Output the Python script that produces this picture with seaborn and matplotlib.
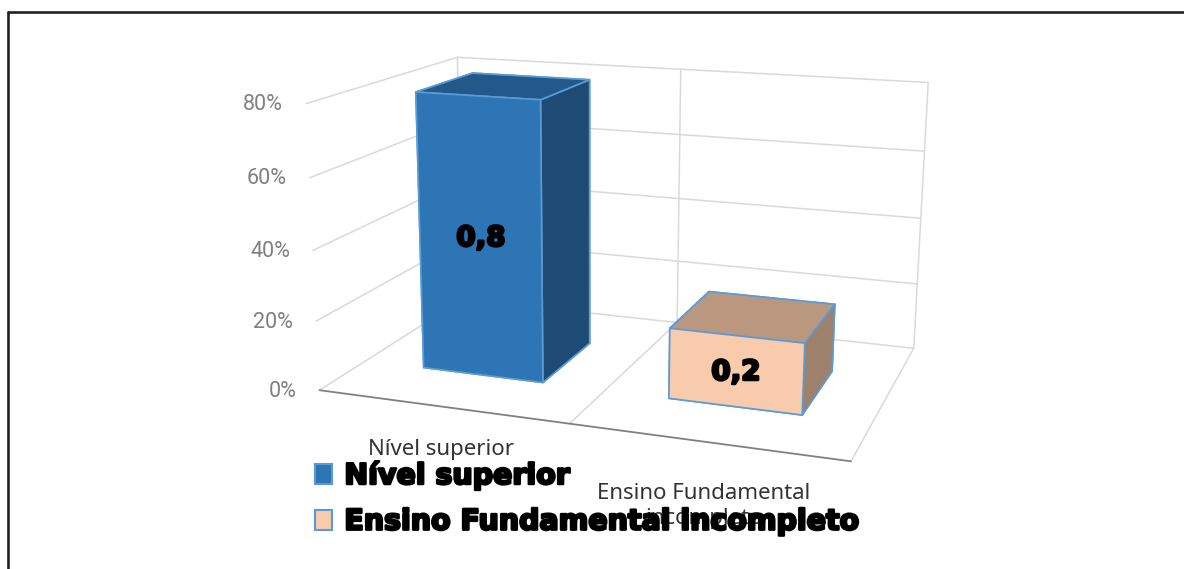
import numpy as np
import matplotlib
matplotlib.use("Agg")
import matplotlib.pyplot as plt
import matplotlib.patheffects as pe
from matplotlib.patches import Patch
from matplotlib.lines import Line2D
import seaborn as sns

# ---- data ----
categories = ["Nível superior", "Ensino Fundamental incompleto"]
axis_labels = ["Nível superior", "Ensino Fundamental\nincompleto"]
values = [0.8, 0.2]
value_labels = ["0,8", "0,2"]
ticks = [0.0, 0.2, 0.4, 0.6, 0.8]
tick_labels = ["0%", "20%", "40%", "60%", "80%"]
front_colors = ["#2E75B6", "#F8CBAD"]
top_colors = ["#22598B", "#BA9880"]
side_colors = ["#1E4B75", "#9E816D"]

W, H = 1184, 569
sns.set_theme(style="white")
plt.rcParams["font.family"] = ["Noto Sans", "DejaVu Sans"]
fig = plt.figure(figsize=(W / 100, H / 100), dpi=100, facecolor="white")

# square 3D axes spanning the figure width, so that apply_aspect leaves it as is
ax = fig.add_axes([0, (H - W) / 2 / H, 1, W / H], projection="3d", computed_zorder=False)
ax.set_axis_off()
ax.patch.set_alpha(0)
ax.set_xlim(0, 2); ax.set_ylim(0, 1); ax.set_zlim(0, 0.8)

# camera: category x, depth y, value z -> picture pixels
CAM = np.array([[218.27336, 232.78355, -34.41080, 319.48757],
                [9.82930, -33.01902, -364.29036, 390.20176],
                [-0.055791, 0.193717, -0.058117, 1.0]])

def project(x, y, z):
    h = CAM @ np.array([x, y, z, 1.0])
    return h[0] / h[2], h[1] / h[2]

def get_proj():
    vl = ax.viewLim
    ytop = (W - H) / 2
    sx = (vl.x1 - vl.x0) / W
    sy = (vl.y1 - vl.y0) / W
    M = np.zeros((4, 4))
    M[3] = CAM[2]
    M[0] = sx * CAM[0] + vl.x0 * CAM[2]
    M[1] = -sy * CAM[1] + (vl.y0 + sy * (H + ytop)) * CAM[2]
    M[2] = [0, 0, 0, -1]
    return M

ax.get_proj = get_proj

grid = "#D9D9D9"
glw = 1.1
for z in ticks:
    ax.plot([0, 0], [0, 1], [z, z], color=grid, lw=glw, zorder=1)
    ax.plot([0, 2], [1, 1], [z, z], color=grid, lw=glw, zorder=1)
for x in [0, 1, 2]:
    ax.plot([x, x], [1, 1], [0, 0.8], color=grid, lw=glw, zorder=1)
for x in [1, 2]:
    ax.plot([x, x], [0, 1], [0, 0], color=grid, lw=glw, zorder=1)
ax.plot([0, 2], [0, 0], [0, 0], color="#808080", lw=1.3, zorder=1.5)

# bars: -z, +z, -y, +y, -x, +x faces
for i, v in enumerate(values):
    ax.bar3d(i + 0.25, 0.29, 0, 0.5, 0.4, v, shade=False, zsort="average",
             color=[front_colors[i], top_colors[i], front_colors[i], side_colors[i],
                    side_colors[i], side_colors[i]],
             edgecolor="#5B9BD5", linewidth=1.2, zorder=3 + i)

stroke = [pe.withStroke(linewidth=1.8, foreground="black")]

def px(x, y):
    return x / W, 1 - y / H

# value tick labels
for t, lab in zip(ticks, tick_labels):
    x0, y0 = project(0, 0, t)
    fig.text(*px(x0 - 23, y0 + 1), lab, ha="right", va="center", family="Roboto",
             fontsize=15.5, color="#808080")

# category labels
fig.text(*px(441, 449), axis_labels[0], ha="center", va="center", fontsize=16, color="#333333")
fig.text(*px(704, 506), axis_labels[1], ha="center", va="center", fontsize=16, color="#333333",
         linespacing=1.3, multialignment="center")

# value labels
for (xx, yy), lab in zip([(481, 238), (736, 372)], value_labels):
    fig.text(*px(xx, yy), lab, ha="center", va="center", fontsize=20, family="DejaVu Sans",
             weight="bold", color="black", path_effects=stroke)

# legend
handles = [Patch(facecolor=c, edgecolor="#5B9BD5", linewidth=1.5) for c in front_colors]
leg = fig.legend(handles, categories, loc="upper left",
                 bbox_to_anchor=px(315, 461), bbox_transform=fig.transFigure,
                 frameon=False, borderpad=0, borderaxespad=0, handlelength=0.6,
                 handleheight=0.7, handletextpad=0.43, labelspacing=0.62,
                 prop=dict(family="DejaVu Sans", weight="bold", size=20.5))
for t in leg.get_texts():
    t.set_color("black")
    t.set_path_effects(stroke)

# picture frame: top and left only
fig.add_artist(Line2D([7.5 / W, 1], [1 - 11.5 / H] * 2, color="#222222", lw=1.9))
fig.add_artist(Line2D([7.5 / W] * 2, [1 - 11.5 / H, 0], color="#222222", lw=1.9))

fig.savefig("out.png", dpi=100)
